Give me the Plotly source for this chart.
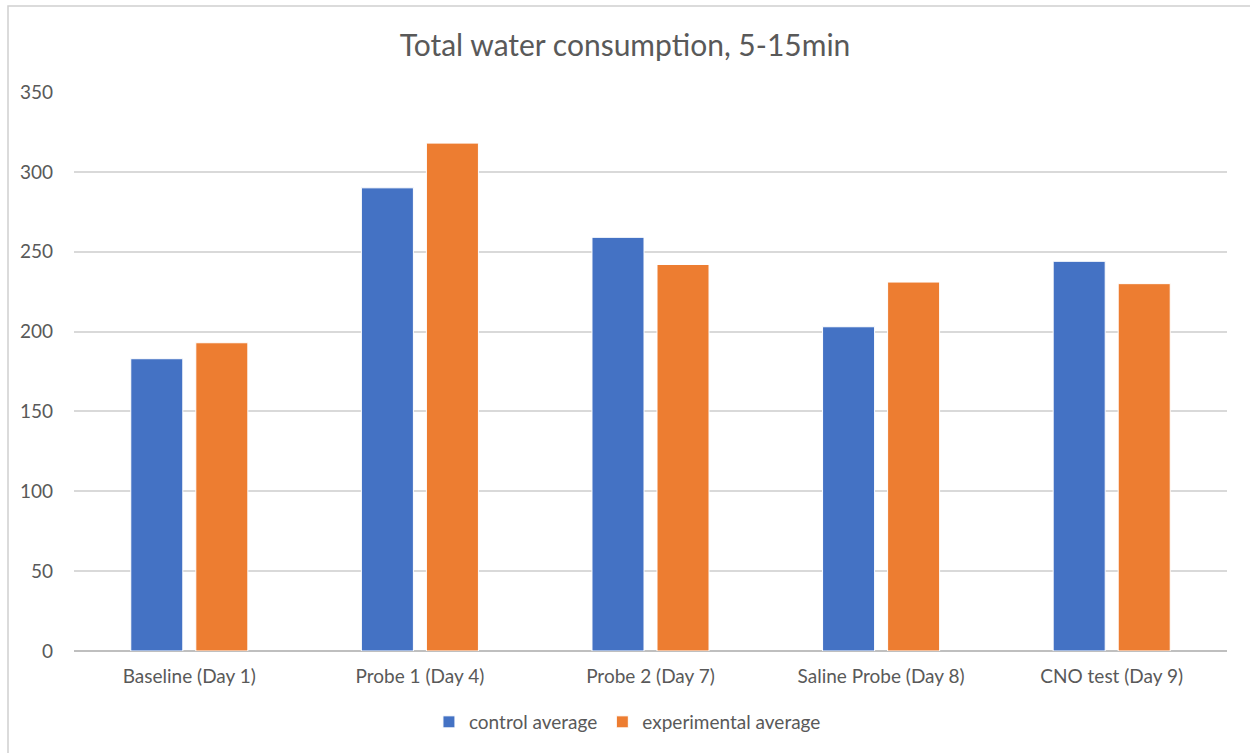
import plotly.graph_objects as go

# Water consumption (5-15 min) per session
sessions = ["Baseline (Day 1)", "Probe 1 (Day 4)", "Probe 2 (Day 7)",
            "Saline Probe (Day 8)", "CNO test (Day 9)"]
control_avg = [183, 290, 259, 203, 244]
experimental_avg = [193, 318, 242, 231, 230]
y_ticks = [0, 50, 100, 150, 200, 250, 300, 350]

FONT = "Lato"
TEXT = "#595959"
W, H = 1250, 753
ML, MR, MT, MB = 74, 23, 92, 102
PW, PH = W - ML - MR, H - MT - MB

fig = go.Figure()
fig.add_trace(go.Bar(
    x=sessions, y=control_avg, name="control average",
    marker=dict(color="#4472C4", line=dict(color="#FFFFFF", width=1)),
))
fig.add_trace(go.Bar(
    x=sessions, y=experimental_avg, name="experimental average",
    marker=dict(color="#ED7D31", line=dict(color="#FFFFFF", width=1)),
))

fig.update_layout(
    width=W, height=H,
    margin=dict(l=ML, r=MR, t=MT, b=MB),
    paper_bgcolor="white", plot_bgcolor="white",
    barmode="group", bargap=0.436, bargroupgap=0.2,
    font=dict(family=FONT, color=TEXT, size=19),
    title=dict(text="Total water consumption, 5-15min",
               font=dict(family=FONT, size=30, color=TEXT),
               x=0.5, xanchor="center", y=1 - 45 / H, yanchor="middle"),
    legend=dict(orientation="h", x=0.48, xanchor="center",
                y=-0.127, yanchor="middle",
                font=dict(family=FONT, size=19, color=TEXT),
                itemwidth=30, tracegroupgap=0),
    showlegend=True,
)
fig.update_xaxes(
    showgrid=False, showline=False, ticks="",
    tickfont=dict(family=FONT, size=19, color=TEXT),
    ticklabelstandoff=12,
)
fig.update_yaxes(
    range=[0, 350], tickvals=y_ticks,
    showgrid=True, gridcolor="#D9D9D9", gridwidth=1.5,
    zeroline=True, zerolinecolor="#BFBFBF", zerolinewidth=1.5,
    showline=False, ticks="",
    tickfont=dict(family=FONT, size=19, color=TEXT),
    ticklabelstandoff=20,
)

# light frame around the chart area (right and bottom edges fall off-canvas)
fig.add_shape(type="rect", xref="paper", yref="paper",
              x0=(8 - ML) / PW, x1=(W + 4 - ML) / PW,
              y0=-(H + 4 - (MT + PH)) / PH, y1=1 + (MT - 6) / PH,
              line=dict(color="#D0D0D0", width=1.5), fillcolor="rgba(0,0,0,0)",
              layer="below")

fig.write_html("out.html")
